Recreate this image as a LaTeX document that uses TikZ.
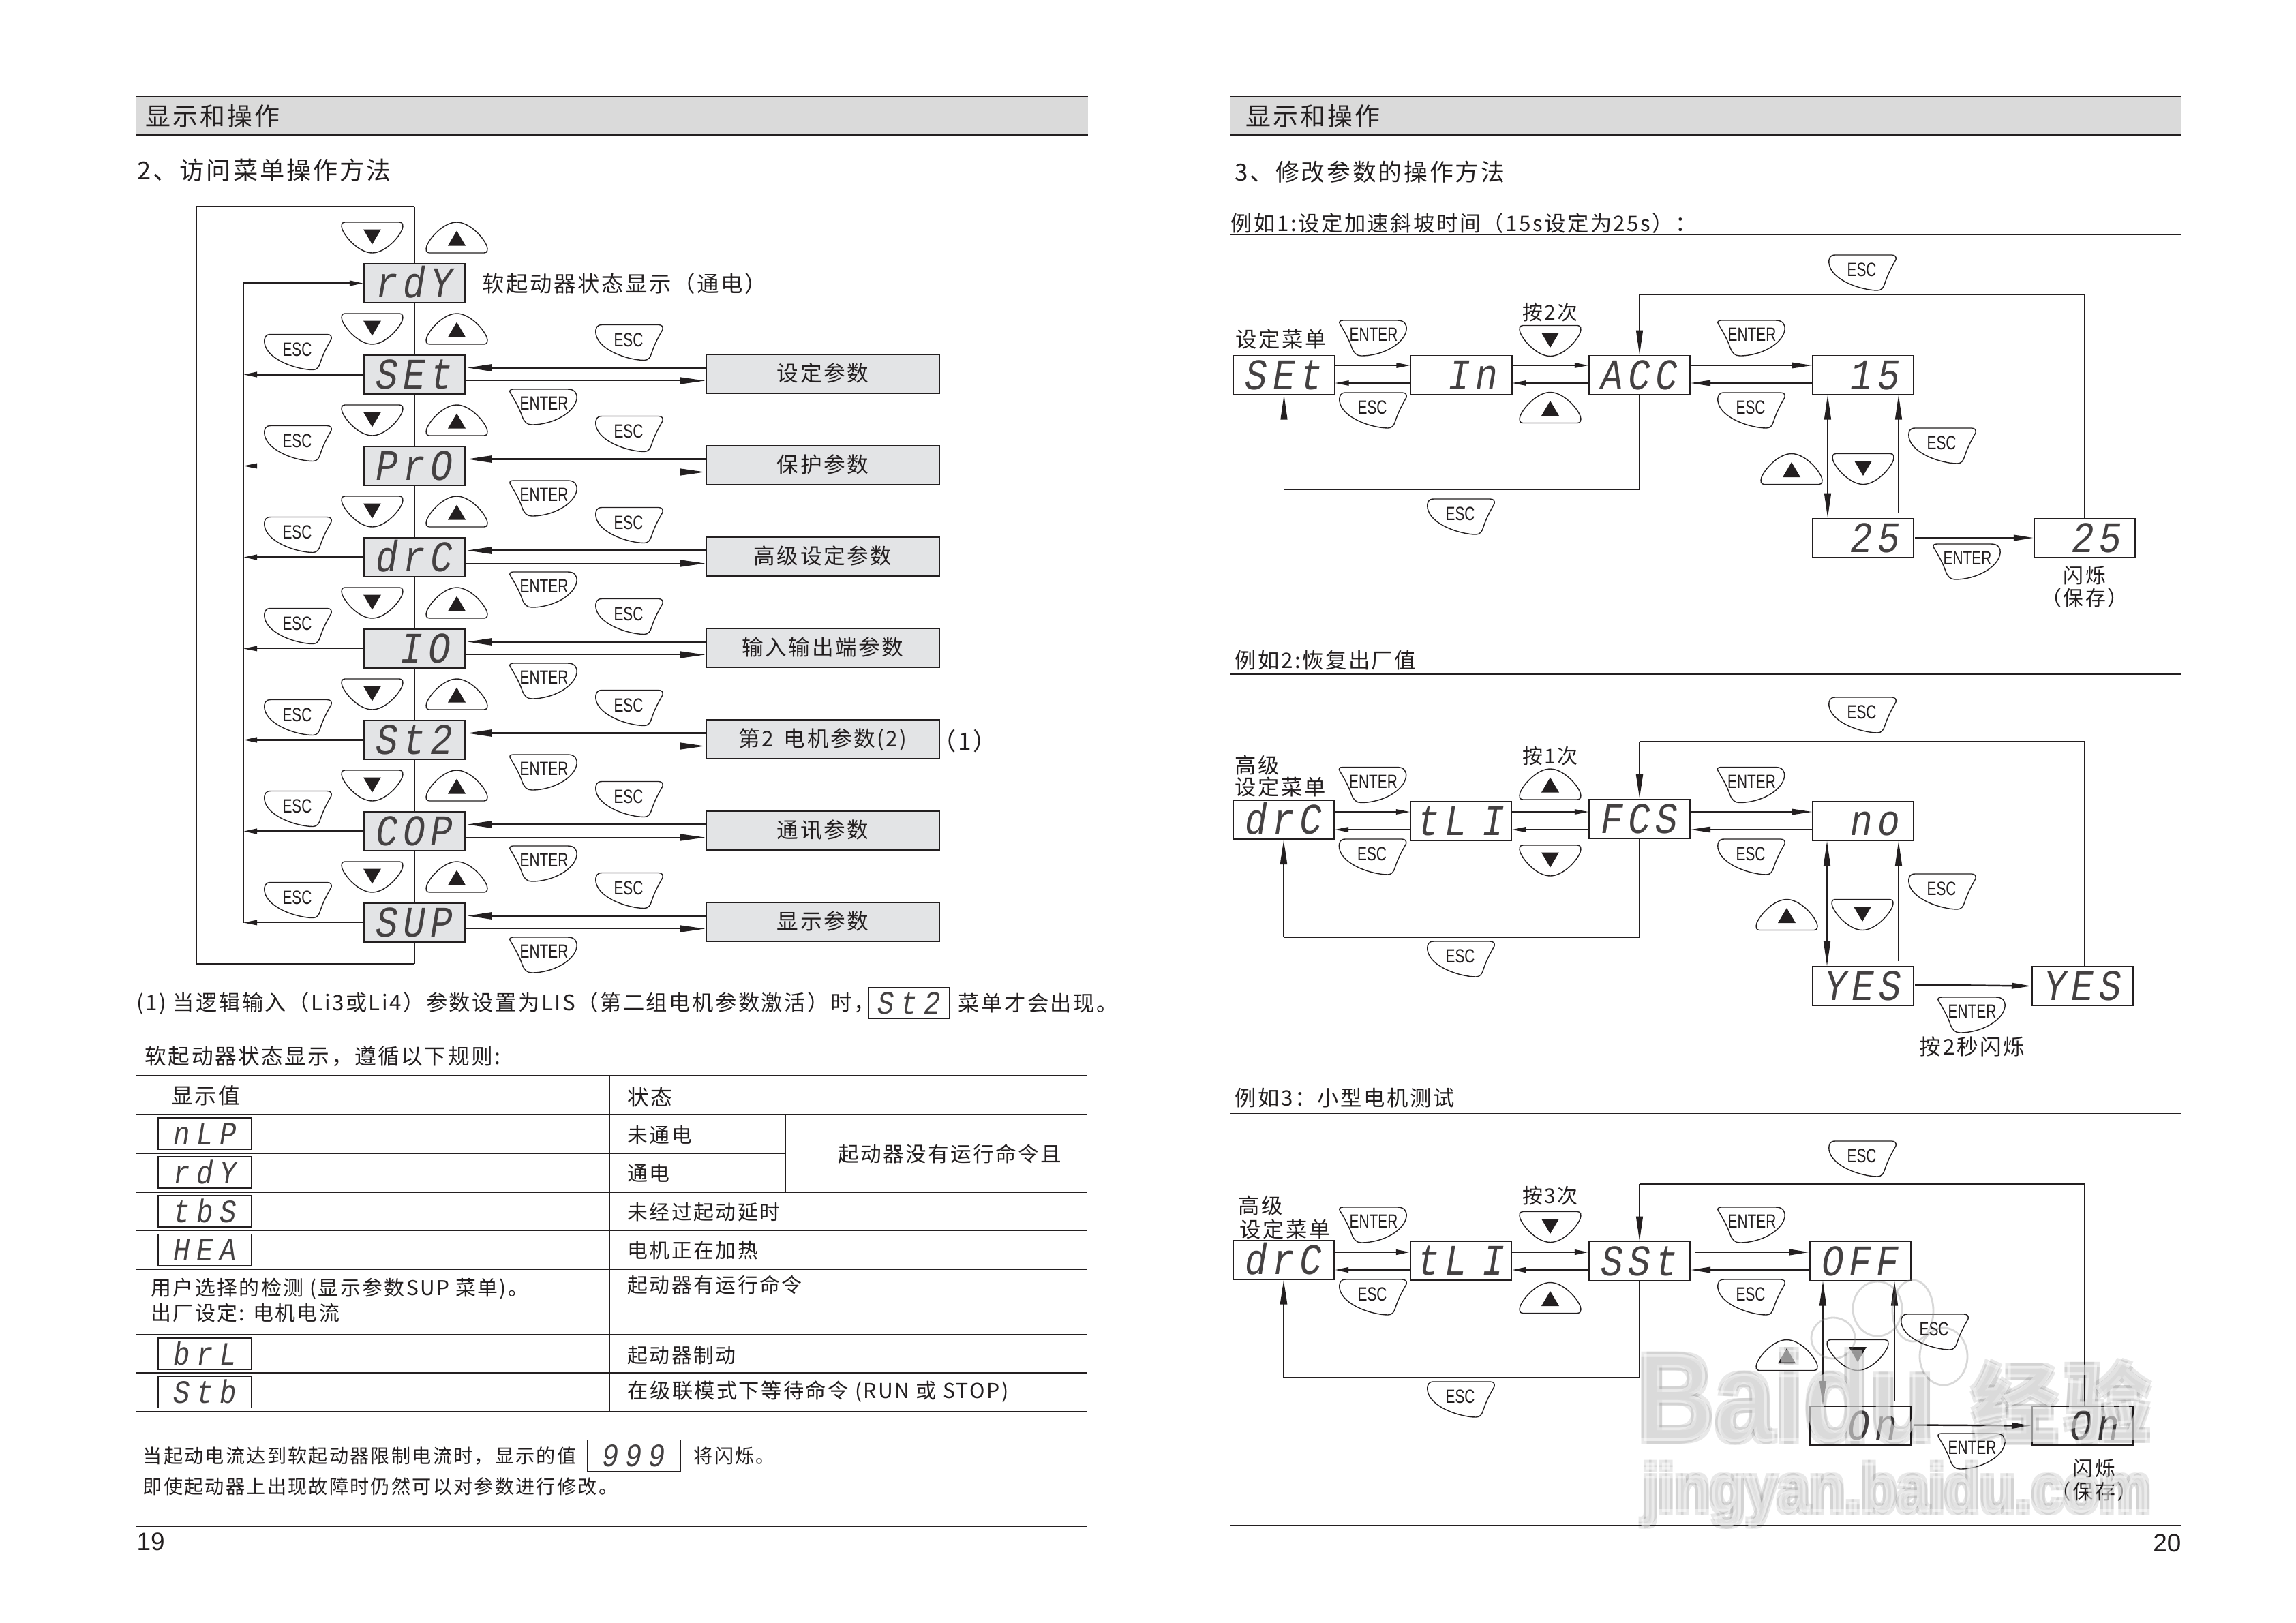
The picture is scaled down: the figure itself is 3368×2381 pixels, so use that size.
\documentclass[tikz,border=0pt]{standalone}
\usepackage{fontspec}
\setmainfont[LetterSpace=8]{Noto Sans CJK SC}
\newfontfamily\lcdfont[FakeStretch=0.85,LetterSpace=12]{Liberation Mono}
\newfontfamily\lcdsmfont[FakeStretch=0.85,LetterSpace=20]{Liberation Mono}
\newfontfamily\keyfont[FakeStretch=0.74]{Liberation Sans}
\newfontfamily\numfont{Liberation Sans}
\newfontfamily\wmfont[FakeStretch=0.85]{Liberation Sans}
\usetikzlibrary{positioning,calc,arrows.meta}
\definecolor{ink}{HTML}{231F20}
\definecolor{lcdgray}{HTML}{E3E4E6}
\definecolor{bargray}{HTML}{DADADA}
\tikzstyle{thinline} = [line width=0.35pt,draw=ink]
\tikzstyle{midline} = [line width=0.5pt,draw=ink]
\tikzstyle{thickline} = [line width=0.7pt,draw=ink]
\tikzstyle{arrs} = [->,>={Triangle[length=0.2cm,width=0.075cm]}]
\tikzstyle{arrm} = [->,>={Triangle[length=0.29cm,width=0.085cm]}]
\tikzstyle{arrl} = [->,>={Triangle[length=0.36cm,width=0.1cm]}]
\tikzstyle{lcd} = [draw=ink,line width=0.55pt,fill=white,minimum width=1.48cm,minimum height=0.57cm,inner sep=0pt,text=ink!85,text height=0.42cm,text depth=0pt,font=\lcdfont\itshape\fontsize{18.2}{20}\selectfont]
\tikzstyle{lcdfill} = [lcd,fill=lcdgray]
\tikzstyle{lcdright} = [lcd,text width=1.08cm,align=right]
\tikzstyle{lcdsmall} = [lcd,line width=0.35pt,minimum width=1.37cm,minimum height=0.46cm,text height=0.32cm,font=\lcdsmfont\itshape\fontsize{13.6}{15}\selectfont]
\tikzstyle{parbox} = [draw=ink,line width=0.55pt,fill=lcdgray,minimum width=3.42cm,minimum height=0.57cm,inner sep=0pt,text=ink,text height=0.26cm,text depth=0.05cm,font=\fontsize{9}{11}\selectfont]
\tikzstyle{txt} = [inner sep=0pt,text=ink,font=\fontsize{8.5}{10}\selectfont]
\tikzstyle{ltxt} = [txt,anchor=west]
\tikzstyle{keytext} = [inner sep=0pt,text=ink,font=\keyfont\fontsize{8}{10}\selectfont]
\tikzstyle{keyline} = [draw=ink,line width=0.4pt,fill=white]
\tikzstyle{wmshadow} = [inner sep=0pt,text=black,opacity=0.09]
\tikzstyle{wmtop} = [inner sep=0pt,text=white,opacity=0.55]
\tikzset{
  esckey/.pic={
    \filldraw[keyline] (-40,-26) -- (43,-26) .. controls (48,-26) and (50,-23) .. (49,-19) .. controls (44,-10) and (38,0) .. (33,15) .. controls (31,22) and (28,26) .. (22,26) .. controls (0,26) and (-45,12) .. (-49,-13) .. controls (-50,-22) and (-47,-26) .. (-40,-26) -- cycle;
    \node[keytext] (-t) at (-1,-4) {ESC};
  },
  enterkey/.pic={
    \filldraw[keyline] (-44,-26) -- (36,-26) .. controls (46,-26) and (50,-20) .. (49,-12) .. controls (46,8) and (15,26) .. (-17,26) .. controls (-24,26) and (-28,22) .. (-31,14) .. controls (-35,2) and (-42,-10) .. (-48,-20) .. controls (-51,-24) and (-48,-26) .. (-44,-26) -- cycle;
    \node[keytext] (-t) at (1,-5) {ENTER};
  },
  upkey/.pic={
    \filldraw[keyline] (-40,22.5) -- (40,22.5) .. controls (45,22.5) and (46,18) .. (44,12) .. controls (38,-2) and (18,-22.5) .. (0,-22.5) .. controls (-18,-22.5) and (-38,-2) .. (-44,12) .. controls (-46,18) and (-45,22.5) .. (-40,22.5) -- cycle;
    \fill[ink] (0,-10) -- (13,12) -- (-13,12) -- cycle;
  },
  downkey/.pic={
    \filldraw[keyline] (-40,-22.5) -- (40,-22.5) .. controls (45,-22.5) and (46,-18) .. (44,-12) .. controls (38,2) and (18,22.5) .. (0,22.5) .. controls (-18,22.5) and (-38,2) .. (-44,-12) .. controls (-46,-18) and (-45,-22.5) .. (-40,-22.5) -- cycle;
    \fill[ink] (0,10) -- (13,-12) -- (-13,-12) -- cycle;
  }
}
\newcommand{\wmark}[5]{%
  \foreach \dx/\dy in {-4/-4,4/4,-4/4,4/-4}
    \node[wmshadow,font=#4] (#1s) at (#2+\dx,#3+\dy) {#5};
  \node[wmtop,font=#4] (#1) at (#2,#3) {#5};
}
\begin{document}
\begin{tikzpicture}[x=0.01cm,y=-0.01cm]
  \useasboundingbox (0,0) rectangle (3368,2381);
  \fill[white] (0,0) rectangle (3368,2381);

  % Page headers
  \foreach \xa/\xb in {200/1596,1805/3200} {
    \fill[bargray] (\xa,142) rectangle (\xb,198);
    \draw[thinline] (\xa,142) -- (\xb,142);
    \draw[thickline] (\xa,198) -- (\xb,198);
  }
  \node[ltxt,font=\fontsize{10.5}{12}\selectfont] (headl) at (213,170) {显示和操作};
  \node[ltxt,font=\fontsize{10.5}{12}\selectfont] (headr) at (1827,170) {显示和操作};
  \node[ltxt,font=\fontsize{10.3}{12}\selectfont] (titlel) at (201,250) {2、访问菜单操作方法};
  \node[ltxt,font=\fontsize{9.9}{12}\selectfont] (titler) at (1811,252) {3、修改参数的操作方法};

  % Menu frame behind the displays
  \coordinate (tl) at (288,303);
  \coordinate (tc) at (608,303);
  \coordinate (bl) at (288,1414);
  \coordinate (bc) at (608,1414);
  \coordinate (lt) at (357,415.5);
  \coordinate (lb) at (357,1353.5);
  \draw[thinline] (tc) -- (tl);
  \draw[midline] (tl) -- (bl) -- (bc);
  \draw[midline] (tc) -- (bc);
  \draw[thinline] (lt) -- (lb);

  \node[lcdfill] (rdy) at (608,415.5) {rdY};
  \draw[thickline,arrs] (lt) -- (rdy);
  \pic (rdyd) at (546,348.5) {downkey};
  \pic (rdyu) at (670,348.5) {upkey};
  \node[ltxt,font=\fontsize{9.2}{10}\selectfont] (rdyt) at (707,416) {软起动器状态显示（通电）};

  % One row for each menu
  \foreach \nm/\txt/\lbl/\yy/\ln in {set/SEt/设定参数/549.5/thickline,pro/PrO/保护参数/683.5/thinline,drc/drC/高级设定参数/817.5/thickline,io/\phantom{0}IO/输入输出端参数/951.5/thinline,st2/St2/第2 \,电机参数(2)/1085.5/thickline,cop/COP/通讯参数/1219.5/thickline,sup/SUP/显示参数/1353.5/thinline} {
    \node[lcdfill] (\nm) at (608,\yy) {\txt};
    \node[parbox] (\nm p) at (1207,\yy-1) {\lbl};
    \draw[\ln,arrs] (\nm.west) -- (\nm.west -| lt);
    \draw[thickline,arrl] ($(\nm p.west)+(0,-9)$) -- ($(\nm.east)+(2,-10)$);
    \draw[thinline,arrl] ($(\nm.east)+(0,9)$) -- ($(\nm p.west)+(-1,10)$);
    \pic (\nm d) at (546,\yy-67) {downkey};
    \pic (\nm u) at (670,\yy-67) {upkey};
    \pic (\nm l) at (437,\yy-33) {esckey};
    \pic (\nm r) at (923,\yy-47) {esckey};
    \pic (\nm e) at (797,\yy+47.5) {enterkey};
  }
  \node[txt,font=\fontsize{10}{12}\selectfont] (note1) at (1415,1087) {（1）};

  % Footnote and the table below
  \node[ltxt,font=\fontsize{8.9}{10}\selectfont] (notea) at (200,1472) {(1) 当逻辑输入（Li3或Li4）参数设置为LIS（第二组电机参数激活）时，};
  \node[lcdsmall,minimum width=1.19cm] (notebox) at (1333.5,1471.5) {St2};
  \node[ltxt,font=\fontsize{8.9}{10}\selectfont] (noteb) at (1405,1472) {菜单才会出现。};
  \node[ltxt,font=\fontsize{9}{10}\selectfont] (rule) at (212,1550) {软起动器状态显示，遵循以下规则:};

  \foreach \yy/\ln in {1578/thickline,1635/thickline,1749/thickline,1805/thickline,1862/thickline,1958/thickline,2014/thickline,2071/thickline}
    \draw[\ln] (200,\yy) -- (1594,\yy);
  \draw[thickline] (200,1692) -- (1152,1692);
  \draw[thinline] (894,1578) -- (894,2071);
  \draw[thinline] (1152,1635) -- (1152,1749);
  \node[txt,font=\fontsize{9.1}{10}\selectfont] (thval) at (302,1607) {显示值};
  \node[ltxt,font=\fontsize{9}{10}\selectfont] (thsta) at (920,1609) {状态};
  \foreach \nm/\txt/\yy in {nlp/nLP/1663,rdys/rdY/1720,tbs/tbS/1777,hea/HEA/1833.5,brl/brL/1986,stb/Stb/2042.5}
    \node[lcdsmall] (\nm) at (300.5,\yy) {\txt};
  \node[ltxt] (c1) at (920,1665) {未通电};
  \node[ltxt] (c2) at (920,1721) {通电};
  \node[txt,font=\fontsize{8.7}{10}\selectfont] (c3) at (1393,1693) {起动器没有运行命令且};
  \node[ltxt] (c4) at (920,1778) {未经过起动延时};
  \node[ltxt] (c5) at (920,1834) {电机正在加热};
  \node[ltxt] (c6) at (221,1891) {用户选择的检测 (显示参数SUP 菜单)。};
  \node[ltxt] (c7) at (221,1926) {出厂设定: 电机电流};
  \node[ltxt] (c8) at (920,1885) {起动器有运行命令};
  \node[ltxt] (c9) at (920,1988) {起动器制动};
  \node[ltxt,font=\fontsize{8.6}{10}\selectfont] (c10) at (920,2042) {在级联模式下等待命令 (RUN 或 STOP)};

  \node[ltxt,font=\fontsize{8}{10}\selectfont] (lima) at (209,2136) {当起动电流达到软起动器限制电流时，显示的值};
  \node[lcdsmall] (limbox) at (930,2135.5) {999};
  \node[ltxt,font=\fontsize{8}{10}\selectfont] (limb) at (1017,2136) {将闪烁。};
  \node[ltxt,font=\fontsize{8}{10}\selectfont] (limc) at (209,2181) {即使起动器上出现故障时仍然可以对参数进行修改。};
  \draw[thinline] (200,2239) -- (1594,2239);
  \node[inner sep=0pt,anchor=west,text=ink,font=\numfont\fontsize{10.5}{12}\selectfont] (pagel) at (200,2262) {19};

  % Example 1
  \node[ltxt,font=\fontsize{8.9}{10}\selectfont] (ex1) at (1805,328) {例如1:设定加速斜坡时间（15s设定为25s）：};
  \draw[thickline] (1805,344) -- (3200,344);
  \node[lcd] (e1a) at (1883.5,550) {SEt};
  \node[lcdright] (e1b) at (2143.5,550) {In};
  \node[lcd] (e1c) at (2405,550) {ACC};
  \node[lcdright] (e1d) at (2733,550) {15};
  \node[lcdright] (e1e) at (2733,789) {25};
  \node[lcdright] (e1f) at (3058,789) {25};
  \coordinate (e1up) at (0,536);
  \coordinate (e1dn) at (0,562);
  \coordinate (e1top) at (0,432);
  \coordinate (e1low) at (0,718);
  \coordinate (e1l) at (2681,0);
  \coordinate (e1r) at (2785,0);
  \draw[thinline,arrs] (e1a.east |- e1up) -- (e1b.west |- e1up);
  \draw[thinline,arrs] (e1b.east |- e1up) -- (e1c.west |- e1up);
  \draw[thinline,arrm] (e1c.east |- e1up) -- (e1d.west |- e1up);
  \draw[thinline,arrs] (e1b.west |- e1dn) -- (e1a.east |- e1dn);
  \draw[thinline,arrs] (e1c.west |- e1dn) -- (e1b.east |- e1dn);
  \draw[thinline,arrm] (e1d.west |- e1dn) -- (e1c.east |- e1dn);
  \draw[thinline,arrl,<->] (e1l |- e1d.south) -- (e1l |- e1e.north);
  \draw[thinline,arrl] ($(e1r |- e1e.north)+(0,-7)$) -- (e1r |- e1d.south);
  \draw[thickline,arrm] (e1e) ++(76,0) -- (e1f.west);
  \draw[thinline] (e1f.north) |- (e1c.north |- e1top);
  \draw[thinline,arrl] (e1c.north |- e1top) -- (e1c.north);
  \draw[thinline] (e1c.south) |- (e1a.south |- e1low);
  \draw[thinline,arrl] (e1a.south |- e1low) -- (e1a.south);
  \pic (e1k1) at (2014,496) {enterkey};
  \pic (e1k2) at (2274,500) {downkey};
  \pic (e1k3) at (2569,496) {enterkey};
  \pic (e1k4) at (2014,602) {esckey};
  \pic (e1k5) at (2274,598) {upkey};
  \pic (e1k6) at (2569,602) {esckey};
  \pic (e1k7) at (2732,400) {esckey};
  \pic (e1k8) at (2143,758) {esckey};
  \pic (e1k9) at (2628,688) {upkey};
  \pic (e1k10) at (2733,688) {downkey};
  \pic (e1k11) at (2849,654) {esckey};
  \pic (e1k12) at (2885,824) {enterkey};
  \node[txt,font=\fontsize{8.9}{10}\selectfont] (e1t1) at (1879,498) {设定菜单};
  \node[txt] (e1t2) at (2274,458) {按2次};
  \node[txt] (e1t3) at (3058,844) {闪烁};
  \node[txt] (e1t4) at (3058,877) {（保存）};

  % Example 2
  \node[ltxt,font=\fontsize{8.9}{10}\selectfont] (ex2) at (1811,969) {例如2:恢复出厂值};
  \draw[thickline] (1805,989) -- (3200,989);
  \node[lcd] (e2a) at (1883,1202.5) {drC};
  \node[lcd] (e2b) at (2143,1204) {tL\hspace{0.22cm}I};
  \node[lcd] (e2c) at (2405,1201) {FCS};
  \node[lcdright] (e2d) at (2733,1204.5) {no};
  \node[lcd] (e2e) at (2733,1446.5) {YES};
  \node[lcd] (e2f) at (3055,1446.5) {YES};
  \coordinate (e2up) at (0,1191);
  \coordinate (e2dn) at (0,1217);
  \coordinate (e2top) at (0,1088);
  \coordinate (e2low) at (0,1375);
  \coordinate (e2l) at (2680,0);
  \coordinate (e2r) at (2785,0);
  \coordinate (e2t) at (3058,0);
  \draw[thinline,arrs] (e2a.east |- e2up) -- (e2b.west |- e2up);
  \draw[thinline,arrs] (e2b.east |- e2up) -- (e2c.west |- e2up);
  \draw[thinline,arrm] (e2c.east |- e2up) -- (e2d.west |- e2up);
  \draw[thinline,arrs] (e2b.west |- e2dn) -- (e2a.east |- e2dn);
  \draw[thinline,arrs] (e2c.west |- e2dn) -- (e2b.east |- e2dn);
  \draw[thinline,arrm] (e2d.west |- e2dn) -- (e2c.east |- e2dn);
  \draw[thinline,arrl,<->] (e2l |- e2d.south) -- (e2l |- e2e.north);
  \draw[thinline,arrl] ($(e2r |- e2e.north)+(0,-7)$) -- (e2r |- e2d.south);
  \draw[thickline,arrm] (e2e) ++(76,-2) -- (e2f.west);
  \draw[thickline] (e2t |- e2f.north) |- (e2c.north |- e2top);
  \draw[thickline,arrl] (e2c.north |- e2top) -- (e2c.north);
  \draw[thickline] (e2c.south) |- (e2a.south |- e2low);
  \draw[thickline,arrl] (e2a.south |- e2low) -- (e2a.south);
  \pic (e2k1) at (2013.5,1151.5) {enterkey};
  \pic (e2k2) at (2274,1150.5) {upkey};
  \pic (e2k3) at (2568.5,1151.5) {enterkey};
  \pic (e2k4) at (2013.5,1257) {esckey};
  \pic (e2k5) at (2274,1262.5) {downkey};
  \pic (e2k6) at (2569,1257) {esckey};
  \pic (e2k7) at (2732,1049) {esckey};
  \pic (e2k8) at (2143,1407) {esckey};
  \pic (e2k9) at (2621,1342) {upkey};
  \pic (e2k10) at (2732,1342) {downkey};
  \pic (e2k11) at (2849,1308) {esckey};
  \pic (e2k12) at (2892,1489) {enterkey};
  \node[ltxt,font=\fontsize{8.9}{10}\selectfont] (e2t0) at (1811,1123) {高级};
  \node[ltxt,font=\fontsize{8.9}{10}\selectfont] (e2t1) at (1811,1155) {设定菜单};
  \node[txt] (e2t2) at (2274,1109) {按1次};
  \node[txt,font=\fontsize{9}{10}\selectfont] (e2t3) at (2893,1535) {按2秒闪烁};

  % Example 3
  \node[ltxt,font=\fontsize{8.9}{10}\selectfont] (ex3) at (1811,1611) {例如3：小型电机测试};
  \draw[thickline] (1805,1634) -- (3200,1634);
  \node[lcd] (e3a) at (1883,1848) {drC};
  \node[lcd] (e3b) at (2143,1849.5) {tL\hspace{0.22cm}I};
  \node[lcd] (e3c) at (2405,1850) {SSt};
  \node[lcd] (e3d) at (2729,1850) {OFF};
  \node[lcdright] (e3e) at (2729,2091.5) {On};
  \node[lcdright] (e3f) at (3055,2091.5) {On};
  \coordinate (e3up) at (0,1837);
  \coordinate (e3dn) at (0,1863);
  \coordinate (e3top) at (0,1737);
  \coordinate (e3low) at (0,2021);
  \coordinate (e3l) at (2674,0);
  \coordinate (e3r) at (2779,0);
  \coordinate (e3t) at (3058,0);
  \draw[thickline,arrs] (e3a.east |- e3up) -- (e3b.west |- e3up);
  \draw[thickline,arrs] (e3b.east |- e3up) -- (e3c.west |- e3up);
  \draw[thickline,arrm] ($(e3c.east |- e3up)+(7,0)$) -- (e3d.west |- e3up);
  \draw[thickline,arrs] (e3b.west |- e3dn) -- (e3a.east |- e3dn);
  \draw[thickline,arrs] (e3c.west |- e3dn) -- (e3b.east |- e3dn);
  \draw[thickline,arrm] (e3d.west |- e3dn) -- (e3c.east |- e3dn);
  \draw[thinline,arrl,<->] (e3l |- e3d.south) -- (e3l |- e3e.north);
  \draw[thinline,arrl] ($(e3r |- e3e.north)+(0,-7)$) -- (e3r |- e3d.south);
  \draw[thickline,arrm] (e3e) ++(79,-1) -- (e3f.west);
  \draw[thinline] (e3t |- e3f.north) |- (e3c.north |- e3top);
  \draw[thinline,arrl] (e3c.north |- e3top) -- (e3c.north);
  \draw[thickline] (e3c.south) |- (e3a.south |- e3low);
  \draw[thickline,arrl] (e3a.south |- e3low) -- (e3a.south);
  \pic (e3k1) at (2014,1797) {enterkey};
  \pic (e3k2) at (2274,1800) {downkey};
  \pic (e3k3) at (2569,1797) {enterkey};
  \pic (e3k4) at (2014,1903) {esckey};
  \pic (e3k5) at (2274,1904) {upkey};
  \pic (e3k6) at (2569,1903) {esckey};
  \pic (e3k7) at (2732,1700) {esckey};
  \pic (e3k8) at (2143,2053) {esckey};
  \pic (e3k9) at (2621,1988) {upkey};
  \pic (e3k10) at (2725,1988) {downkey};
  \pic (e3k11) at (2838,1954) {esckey};
  \pic (e3k12) at (2892,2129) {enterkey};
  \node[ltxt,font=\fontsize{8.9}{10}\selectfont] (e3t0) at (1816,1769) {高级};
  \node[ltxt,font=\fontsize{8.9}{10}\selectfont] (e3t1) at (1818,1804) {设定菜单};
  \node[txt] (e3t2) at (2274,1754) {按3次};
  \node[txt] (e3t3) at (3072,2154) {闪烁};
  \node[txt] (e3t4) at (3072,2188) {（保存）};

  \draw[thinline] (1805,2238) -- (3200,2238);
  \node[inner sep=0pt,anchor=east,text=ink,font=\numfont\fontsize{10.5}{12}\selectfont] (pager) at (3200,2264) {20};

  % Watermark on top of everything
  \foreach \ex/\ey/\rx/\ry in {2754/1920/36/40,2806/1923/30/45,2689/1963/32/30,2851/1990/35/42}
    \draw[gray,opacity=0.3,line width=0.8pt] (\ex,\ey) ellipse [x radius=\rx,y radius=\ry];
  \wmark{wma}{2620}{2048}{\wmfont\bfseries\fontsize{52.6}{54}\selectfont}{Baidu}
  \wmark{wmb}{3024}{2057}{\bfseries\fontsize{36}{38}\selectfont}{经验}
  \wmark{wmc}{2782}{2193}{\wmfont\bfseries\fontsize{28.4}{30}\selectfont}{jingyan.baidu.com}
\end{tikzpicture}
\end{document}
